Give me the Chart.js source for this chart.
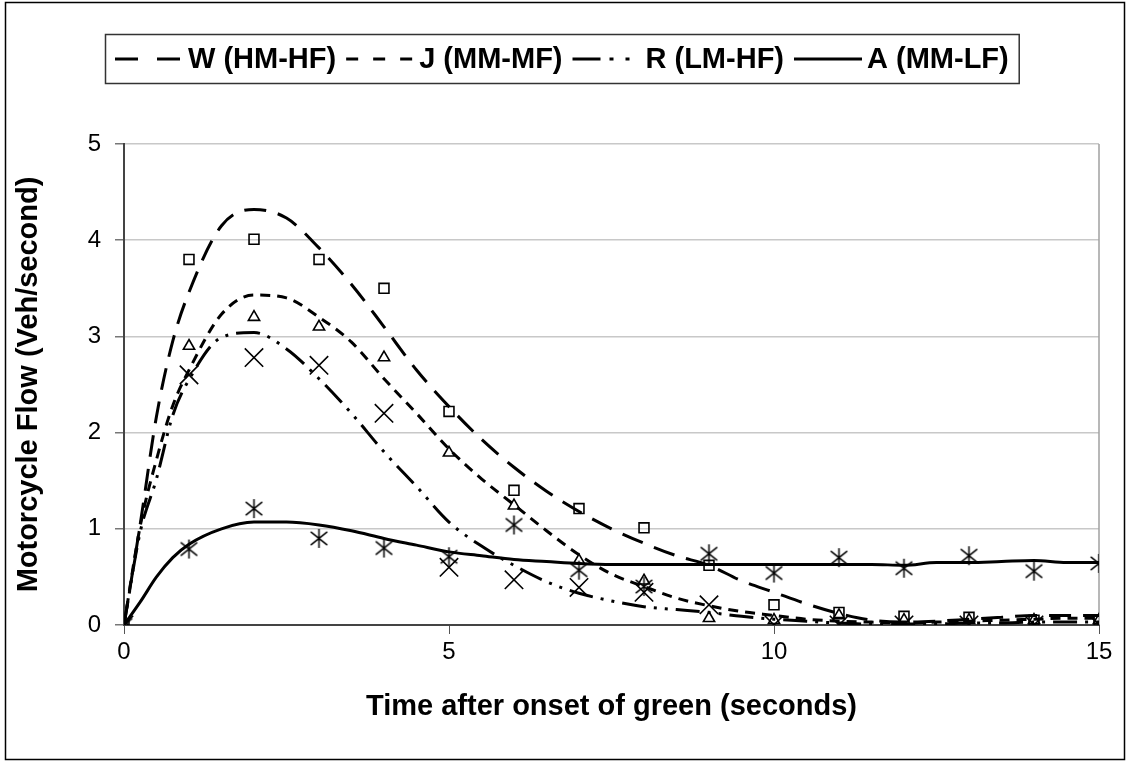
<!DOCTYPE html>
<html>
<head>
<meta charset="utf-8">
<script src="https://cdn.jsdelivr.net/npm/chart.js@4.4.0/dist/chart.umd.min.js"></script>
<style>
    html, body { margin: 0; padding: 0; background: #fff; }
</style>
</head>
<body>
<canvas id="flowChart" width="1128" height="761"></canvas>
<script>
// observed flow at each whole second
const seconds = [0, 1, 2, 3, 4, 5, 6, 7, 8, 9, 10, 11, 12, 13, 14, 15];
const obsW = [0, 3.8, 4.01, 3.8, 3.5, 2.22, 1.4, 1.21, 1.01, 0.62, 0.21, 0.13, 0.09, 0.08, 0.05, 0.05];
const obsJ = [0, 2.9, 3.2, 3.1, 2.78, 1.79, 1.24, 0.67, 0.46, 0.07, 0.05, 0.1, 0.05, 0.05, 0.05, 0.05];
const obsR = [0, 2.6, 2.78, 2.7, 2.2, 0.6, 0.47, 0.39, 0.34, 0.21, 0, 0, 0, 0, 0, 0];
const obsA = [0, 0.79, 1.21, 0.9, 0.8, 0.71, 1.04, 0.57, 0.4, 0.74, 0.54, 0.7, 0.59, 0.72, 0.56, 0.64];

// fitted curves
const curveTime = [0, 0.25, 0.5, 0.75, 1, 1.5, 2, 2.5, 3, 3.5, 4, 4.5, 5, 5.5, 6, 6.5, 7, 7.5, 8, 8.5, 9, 9.5, 10, 10.5, 11, 11.5, 12, 12.5, 13, 13.5, 14, 14.5, 15];
const fitW = [0, 1.05, 2.17, 2.95, 3.46, 4.15, 4.32, 4.23, 3.92, 3.54, 3.1, 2.65, 2.27, 1.93, 1.64, 1.39, 1.18, 1.0, 0.85, 0.72, 0.62, 0.46, 0.34, 0.22, 0.12, 0.05, 0.03, 0.04, 0.06, 0.08, 0.1, 0.1, 0.1];
const fitJ = [0, 1.03, 1.72, 2.28, 2.65, 3.23, 3.43, 3.4, 3.2, 2.94, 2.56, 2.2, 1.83, 1.52, 1.25, 0.98, 0.73, 0.53, 0.4, 0.28, 0.2, 0.14, 0.1, 0.06, 0.04, 0.03, 0.02, 0.03, 0.04, 0.05, 0.06, 0.07, 0.07];
const fitR = [0, 0.97, 1.52, 2.18, 2.55, 2.99, 3.04, 2.87, 2.56, 2.2, 1.8, 1.44, 1.07, 0.82, 0.62, 0.45, 0.33, 0.25, 0.19, 0.16, 0.13, 0.09, 0.06, 0.04, 0.02, 0.01, 0.01, 0.01, 0.02, 0.02, 0.03, 0.03, 0.03];
const fitA = [0, 0.24, 0.5, 0.7, 0.84, 1.0, 1.07, 1.07, 1.04, 0.98, 0.9, 0.83, 0.76, 0.72, 0.68, 0.66, 0.64, 0.63, 0.63, 0.63, 0.63, 0.63, 0.63, 0.63, 0.63, 0.63, 0.62, 0.65, 0.65, 0.66, 0.67, 0.65, 0.65];

const seriesLabels = ["W (HM-HF)", "J (MM-MF)", "R (LM-HF)", "A (MM-LF)"];

const FONT = "'Liberation Sans', Arial, sans-serif";

// six-armed asterisk marker like the original
function makeAsterisk(size) {
    const c = document.createElement("canvas");
    c.width = size;
    c.height = size;
    const g = c.getContext("2d");
    const m = size / 2;
    const r = size / 2 - 1;
    g.strokeStyle = "#000";
    g.lineWidth = 1.5;
    g.beginPath();
    g.moveTo(m, m - r); g.lineTo(m, m + r);
    g.moveTo(m - r * 0.87, m - r * 0.7); g.lineTo(m + r * 0.87, m + r * 0.7);
    g.moveTo(m - r * 0.87, m + r * 0.7); g.lineTo(m + r * 0.87, m - r * 0.7);
    g.stroke();
    return c;
}

function pairs(xs, ys) {
    return xs.map((x, i) => ({ x: x, y: ys[i] }));
}

// dash patterns for the curves and for the legend samples
const lineDashes = [
    [22, 12],
    [10, 7],
    [24, 8, 3, 8, 3, 8],
    [],
];
const legendDashes = [
    [23, 19],
    [12, 15],
    [28, 9, 4, 12, 4, 20],
    [],
];

const curveSets = [fitW, fitJ, fitR, fitA].map((vals, i) => ({
    label: seriesLabels[i],
    data: pairs(curveTime, vals),
    borderColor: "#000",
    borderWidth: 3,
    borderDash: lineDashes[i],
    pointRadius: 0,
    fill: false,
    cubicInterpolationMode: "monotone",
}));

const markerStyles = [
    { style: "rect", radius: 7 },
    { style: "triangle", radius: 6.5 },
    { style: "crossRot", radius: 13 },
    { style: makeAsterisk(21), radius: 10 },
];

const markerSets = [obsW, obsJ, obsR, obsA].map((vals, i) => ({
    label: seriesLabels[i] + " obs",
    data: pairs(seconds, vals),
    showLine: false,
    pointStyle: markerStyles[i].style,
    pointRadius: markerStyles[i].radius,
    pointBorderWidth: 1.6,
    pointBorderColor: "#000",
    pointBackgroundColor: "rgba(255,255,255,0)",
    borderColor: "#000",
}));

const PLOT_LEFT = 124;
const PLOT_BOTTOM = 625;

const frames = {
    id: "frames",
    beforeDatasetsDraw(chart) {
        const { ctx, chartArea } = chart;
        ctx.save();
        ctx.strokeStyle = "#a0a0a0";
        ctx.lineWidth = 1.5;
        ctx.beginPath();
        ctx.moveTo(chartArea.right, chartArea.top);
        ctx.lineTo(chartArea.right, chartArea.bottom);
        ctx.stroke();
        ctx.restore();
    },
    afterDraw(chart) {
        const ctx = chart.ctx;
        ctx.save();
        // outer frame
        ctx.strokeStyle = "#000";
        ctx.lineWidth = 1.5;
        ctx.strokeRect(5.5, 2.5, 1119, 757);

        // legend
        ctx.font = "bold 29px " + FONT;
        ctx.textBaseline = "middle";
        ctx.fillStyle = "#000";
        const left = 105;
        const y = 59;
        let x = left + 10;
        seriesLabels.forEach((label, i) => {
            ctx.lineWidth = 3;
            ctx.setLineDash(legendDashes[i]);
            ctx.beginPath();
            ctx.moveTo(x, y);
            ctx.lineTo(x + 68, y);
            ctx.stroke();
            ctx.setLineDash([]);
            x += 73;
            ctx.fillText(label, x, y + 1);
            x += ctx.measureText(label).width + 10;
        });
        ctx.lineWidth = 1.5;
        ctx.strokeStyle = "#333";
        ctx.strokeRect(left + 0.5, 34.5, x - left, 49);
        ctx.restore();
    },
};

new Chart(document.getElementById("flowChart").getContext("2d"), {
    type: "line",
    data: {
        datasets: markerSets.concat(curveSets),
    },
    options: {
        responsive: false,
        animation: false,
        layout: {
            padding: { top: 144, left: 8, right: 29, bottom: 33 },
        },
        plugins: {
            legend: { display: false },
            tooltip: { enabled: false },
        },
        scales: {
            x: {
                type: "linear",
                min: 0,
                max: 15,
                ticks: {
                    stepSize: 5,
                    color: "#000",
                    font: { family: FONT, size: 24 },
                    padding: 4,
                },
                grid: {
                    drawOnChartArea: false,
                    drawTicks: true,
                    tickLength: 9,
                    tickColor: "#555",
                },
                border: { color: "#444", width: 2 },
                title: {
                    display: true,
                    text: "Time after onset of green (seconds)",
                    color: "#000",
                    font: { family: FONT, size: 29, weight: "bold" },
                },
                afterFit: scale => { scale.height = 761 - 33 - PLOT_BOTTOM; },
            },
            y: {
                min: 0,
                max: 5,
                ticks: {
                    stepSize: 1,
                    color: "#000",
                    font: { family: FONT, size: 24 },
                    padding: 14,
                },
                grid: {
                    color: "#c8c8c8",
                    lineWidth: 1.5,
                    tickLength: 9,
                    tickColor: "#777",
                },
                border: { color: "#444", width: 2 },
                title: {
                    display: true,
                    text: "Motorcycle Flow (Veh/second)",
                    color: "#000",
                    font: { family: FONT, size: 29, weight: "bold" },
                },
                afterFit: scale => { scale.width = PLOT_LEFT - 8; },
            },
        },
    },
    plugins: [frames],
});
</script>
</body>
</html>
